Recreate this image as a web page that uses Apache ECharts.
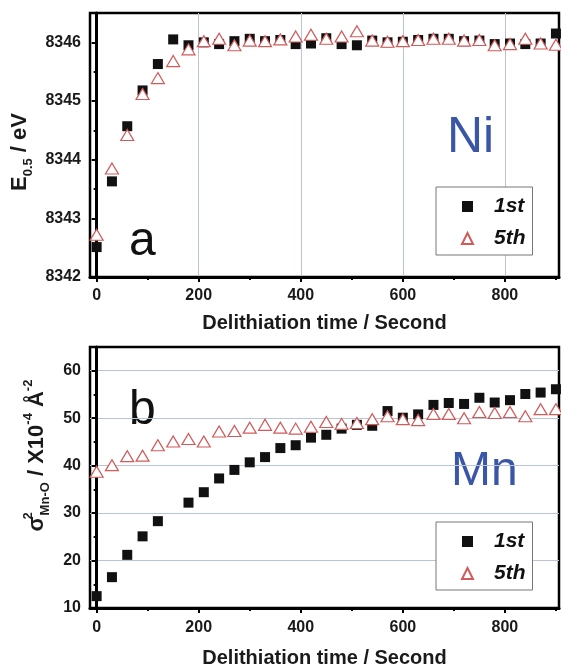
<!DOCTYPE html>
<html>
<head>
<meta charset="utf-8">
<script src="https://cdn.jsdelivr.net/npm/echarts@6/dist/echarts.min.js"></script>
<style>html,body{margin:0;padding:0;background:#fff;}#c{width:561px;height:666px;}</style>
</head>
<body>
<div id="c"></div>
<script>
// ---- data ----
const timeTop = [0,30,60,90,120,150,180,210,240,270,300,330,360,390,420,450,480,510,540,570,600,630,660,690,720,750,780,810,840,870,900];
const niFirst = [8342.51,8343.63,8344.57,8345.18,8345.63,8346.05,8345.95,8346.00,8345.97,8346.02,8346.06,8346.02,8346.04,8345.97,8345.98,8346.07,8345.97,8345.95,8346.03,8346.00,8346.01,8346.04,8346.06,8346.06,8346.02,8346.03,8345.97,8345.98,8345.97,8345.98,8346.15];
const niFifth = [8342.72,8343.85,8344.42,8345.12,8345.39,8345.68,8345.88,8346.02,8346.06,8345.95,8346.03,8346.02,8346.05,8346.10,8346.13,8346.06,8346.10,8346.19,8346.03,8346.01,8346.02,8346.04,8346.06,8346.06,8346.03,8346.04,8345.95,8345.97,8346.06,8345.98,8345.96];

const timeMnFirst = [0,30,60,90,120,180,210,240,270,300,330,360,390,420,450,480,510,540,570,600,630,660,690,720,750,780,810,840,870,900];
const mnFirst = [12.5,16.5,21.2,25.1,28.3,32.2,34.4,37.3,39.1,40.7,41.8,43.7,44.3,45.9,46.5,47.8,48.6,48.4,51.5,50.1,50.8,52.8,53.2,53.0,54.3,53.3,53.8,55.1,55.4,56.1];
const timeMnFifth = timeTop;
const mnFifth = [38.7,40.1,42.0,42.1,44.3,45.1,45.6,45.1,47.2,47.3,48.0,48.6,48.0,47.8,48.2,49.2,48.8,49.0,49.8,50.4,49.8,49.6,50.9,50.9,50.0,51.3,51.1,51.3,50.4,51.9,51.9];

const xMajorTicks = [0,200,400,600,800];
const xMinorTicks = [100,300,500,700,900];
const niTicks = [8342,8343,8344,8345,8346];
const niMinor = [8342.5,8343.5,8344.5,8345.5];
const mnTicks = [10,20,30,40,50,60];
const mnMinor = [15,25,35,45,55];
const seriesNames = ['1st','5th'];

// ---- chart ----
const zip = (xs, ys) => xs.map((x, i) => [x, ys[i]]);
const FONT = 'Liberation Sans, Arial, sans-serif';
const labelStyle = {fontFamily: FONT, fontSize: 16, fontWeight: 'bold', color: '#1a1a1a', formatter: v => String(v)};
const gridLineColor = '#b9c3da';

function xAxes(gridIndex, nameGap, margin, withSplit) {
  return [{
    type: 'value', gridIndex, min: -13, max: 906,
    name: 'Delithiation time / Second', nameLocation: 'middle', nameGap,
    nameTextStyle: {fontFamily: FONT, fontSize: 20, fontWeight: 'bold', color: '#1a1a1a'},
    axisLine: {show: true, lineStyle: {color: '#000', width: 3}},
    axisTick: {show: true, inside: false, length: 5, customValues: xMajorTicks, lineStyle: {color: '#000', width: 2}},
    axisLabel: {customValues: xMajorTicks, margin, ...labelStyle},
    splitLine: {show: withSplit, lineStyle: {color: gridLineColor, width: 1}}
  }, {
    type: 'value', gridIndex, min: -13, max: 906, position: 'bottom',
    axisLine: {show: false},
    axisTick: {show: true, length: 3, customValues: xMinorTicks, lineStyle: {color: '#000', width: 2}},
    axisLabel: {show: false, customValues: xMinorTicks},
    splitLine: {show: false}
  }];
}

function yAxes(gridIndex, min, max, major, minor, name, nameGap, namePad, fs, withSplit) {
  return [{
    type: 'value', gridIndex, min, max,
    name, nameLocation: 'middle', nameGap, nameRotate: 90,
    nameTextStyle: {
      fontFamily: FONT, fontSize: fs, fontWeight: 'bold', color: '#1a1a1a', padding: namePad,
      rich: {
        m: {fontFamily: FONT, fontSize: fs, fontWeight: 'bold', color: '#1a1a1a', lineHeight: fs + 8},
        sub: {fontFamily: FONT, fontSize: 13, fontWeight: 'bold', color: '#1a1a1a', lineHeight: 12, verticalAlign: 'bottom'},
        sup: {fontFamily: FONT, fontSize: 13, fontWeight: 'bold', color: '#1a1a1a', lineHeight: 13, verticalAlign: 'top'},
        sup0: {fontFamily: FONT, fontSize: 13, fontWeight: 'bold', color: '#1a1a1a', lineHeight: 13, verticalAlign: 'top', width: 1}
      }
    },
    axisLine: {show: true, lineStyle: {color: '#000', width: 3}},
    axisTick: {show: true, length: 5, customValues: major, lineStyle: {color: '#000', width: 2}},
    axisLabel: {customValues: major, margin: 9, ...labelStyle},
    splitLine: {show: withSplit, lineStyle: {color: gridLineColor, width: 1}}
  }, {
    type: 'value', gridIndex, min, max, position: 'left',
    axisLine: {show: false},
    axisTick: {show: true, length: 3, customValues: minor, lineStyle: {color: '#000', width: 2}},
    axisLabel: {show: false, customValues: minor},
    splitLine: {show: false}
  }];
}

function legend(top) {
  return {
    show: true, orient: 'vertical', left: 436, top,
    data: seriesNames,
    itemWidth: 11, itemHeight: 11, itemGap: 11,
    padding: [9, 7, 6, 25],
    borderColor: '#777', borderWidth: 1, backgroundColor: '#fff',
    textStyle: {fontFamily: FONT, fontSize: 21, fontWeight: 'bold', fontStyle: 'italic', color: '#111', padding: [0, 0, 0, 16]}
  };
}

function sq(name, xi, yi, data) {
  return {name, type: 'scatter', xAxisIndex: xi, yAxisIndex: yi, data, symbol: 'rect', symbolSize: 10,
    itemStyle: {color: '#111', opacity: 1}, z: 3};
}
function tri(name, xi, yi, data) {
  return {name, type: 'scatter', xAxisIndex: xi, yAxisIndex: yi, data, symbol: 'triangle', symbolSize: [13, 11],
    itemStyle: {color: '#fff', borderColor: '#cf5b5b', borderWidth: 1.2, opacity: 1}, z: 4};
}

const chart = echarts.init(document.getElementById('c'), null, {renderer: 'canvas'});
chart.setOption({
  animation: false,
  backgroundColor: '#fff',
  grid: [
    {left: 90, right: 2, top: 13, height: 264, show: true, borderColor: '#000', borderWidth: 2.5, backgroundColor: 'transparent', outerBoundsMode: 'none', containLabel: false},
    {left: 90, right: 2, top: 347, height: 261, show: true, borderColor: '#000', borderWidth: 2.5, backgroundColor: 'transparent', outerBoundsMode: 'none', containLabel: false}
  ],
  xAxis: [...xAxes(0, 36, 11, true), ...xAxes(1, 40, 12, false)],
  yAxis: [
    ...yAxes(0, 8342, 8346.5, niTicks, niMinor, '{m|E}{sub|0.5}{m| / eV}', 54, [0, 14, 0, 0], 22, false),
    ...yAxes(1, 10, 65, mnTicks, mnMinor, '{m|σ}{sup0|2}{sub|Mn-O}{m| / X10}{sup|-4}{m| Å}{sup|-2}', 36, [0, 0, 0, 44], 22, true)
  ],
  legend: [legend(187), legend(522)],
  series: [
    sq('1st', 0, 0, zip(timeTop, niFirst)),
    tri('5th', 0, 0, zip(timeTop, niFifth)),
    sq('1st', 2, 2, zip(timeMnFirst, mnFirst)),
    tri('5th', 2, 2, zip(timeMnFifth, mnFifth))
  ],
  graphic: [
    {type: 'text', left: 129, top: 218, style: {text: 'a', font: '48px ' + FONT, fill: '#111'}},
    {type: 'text', left: 447, top: 113, style: {text: 'Ni', font: '50px ' + FONT, fill: '#3a56a6'}},
    {type: 'text', left: 129, top: 387, style: {text: 'b', font: '48px ' + FONT, fill: '#111'}},
    {type: 'text', left: 451, top: 448, style: {text: 'Mn', font: '48px ' + FONT, fill: '#3a56a6'}}
  ]
});
</script>
</body>
</html>
